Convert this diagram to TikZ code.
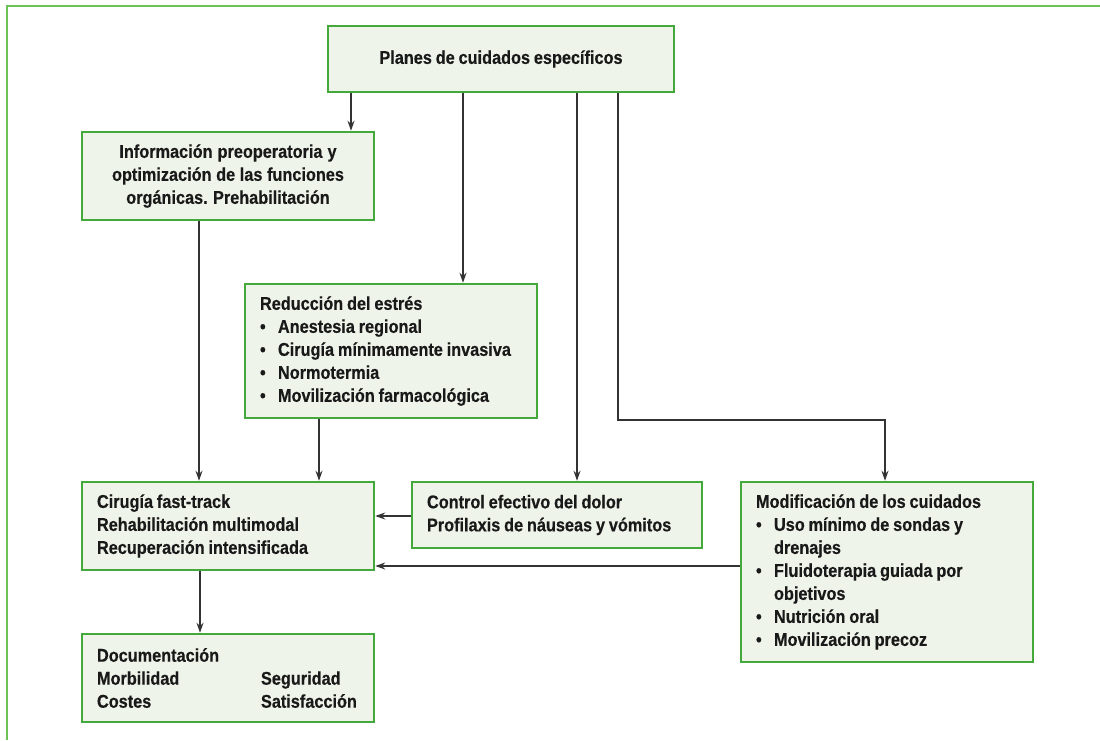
\documentclass[tikz,border=0pt]{standalone}
\usepackage{fontspec}
\newfontfamily\diag[FakeStretch=0.88, WordSpace=0.85, FakeBold=0.4]{Liberation Sans Bold}
\usetikzlibrary{arrows.meta}
\definecolor{boxgreen}{HTML}{45A83A}
\definecolor{boxfill}{HTML}{EFF4EA}
\definecolor{framegreen}{HTML}{6CC257}
\definecolor{arrowgray}{HTML}{333333}
\newcommand{\bul}[1]{\makebox[18pt][l]{\textbullet}#1}
\newcommand{\ind}[1]{\hspace*{18pt}#1}
\newcommand{\nsp}{\spaceskip=0pt\xspaceskip=0pt\relax}
\frenchspacing
\begin{document}
\begin{tikzpicture}[x=1pt,y=-1pt,
  font=\diag\fontsize{18.5}{23}\selectfont\frenchspacing,
  box/.style={draw=boxgreen, line width=2.6pt, fill=boxfill, inner xsep=15pt, inner ysep=0pt, align=left, text=black!90},
  arr/.style={draw=arrowgray, line width=1.3pt, -{Stealth[length=10pt,width=7pt]}}]
\useasboundingbox (0,0) rectangle (1100,740);
\draw[framegreen, line width=2pt] (7,740) -- (7,6) -- (1100,6);

\node[box, minimum width=346pt, minimum height=66pt, align=center] (planes) at (501,59) {\nsp Planes de cuidados específicos};
\node[box, minimum width=292pt, minimum height=88pt, text width=262pt, align=center] (info) at (228,176)
  {\nsp Información preoperatoria y\\optimización de las funciones\\orgánicas. Prehabilitación};
\node[box, minimum width=292pt, minimum height=134pt, text width=262pt] (red) at (391,351)
  {\nsp Reducción del estrés\\\bul{Anestesia regional}\\\bul{Cirugía mínimamente invasiva}\\\bul{Normotermia}\\\bul{Movilización farmacológica}};
\node[box, minimum width=292pt, minimum height=88pt, text width=262pt] (cir) at (228,526)
  {\nsp Cirugía fast-track\\Rehabilitación multimodal\\Recuperación intensificada};
\node[box, minimum width=290pt, minimum height=66pt, text width=260pt] (ctrl) at (557,515)
  {\nsp Control efectivo del dolor\\Profilaxis de náuseas y vómitos};
\node[box, minimum width=292pt, minimum height=180pt, text width=262pt] (mod) at (887,572)
  {\nsp Modificación de los cuidados\\\bul{Uso mínimo de sondas y}\\\ind{drenajes}\\\bul{Fluidoterapia guiada por}\\\ind{objetivos}\\\bul{Nutrición oral}\\\bul{Movilización precoz}};
\node[box, minimum width=292pt, minimum height=88pt, text width=262pt] (doc) at (228,678)
  {\nsp Documentación\\\makebox[164pt][l]{Morbilidad}Seguridad\\\makebox[164pt][l]{Costes}Satisfacción};

\coordinate (c1) at (351,0);
\coordinate (c2) at (463,0);
\coordinate (c3) at (577,0);
\coordinate (c4) at (618,420);
\coordinate (c5) at (885,420);
\coordinate (c6) at (199,0);
\coordinate (c7) at (319,0);
\coordinate (c8) at (0,516);
\coordinate (c9) at (0,566);
\coordinate (c10) at (200,0);

\draw[arr] (planes.south -| c1) -- (info.north -| c1);
\draw[arr] (planes.south -| c2) -- (red.north -| c2);
\draw[arr] (planes.south -| c3) -- (ctrl.north -| c3);
\draw[arr] (planes.south -| c4) -- (c4) -- (c5) -- (mod.north -| c5);
\draw[arr] (info.south -| c6) -- (cir.north -| c6);
\draw[arr] (red.south -| c7) -- (cir.north -| c7);
\draw[arr] (ctrl.west |- c8) -- (cir.east |- c8);
\draw[arr] (mod.west |- c9) -- (cir.east |- c9);
\draw[arr] (cir.south -| c10) -- (doc.north -| c10);
\end{tikzpicture}
\end{document}
